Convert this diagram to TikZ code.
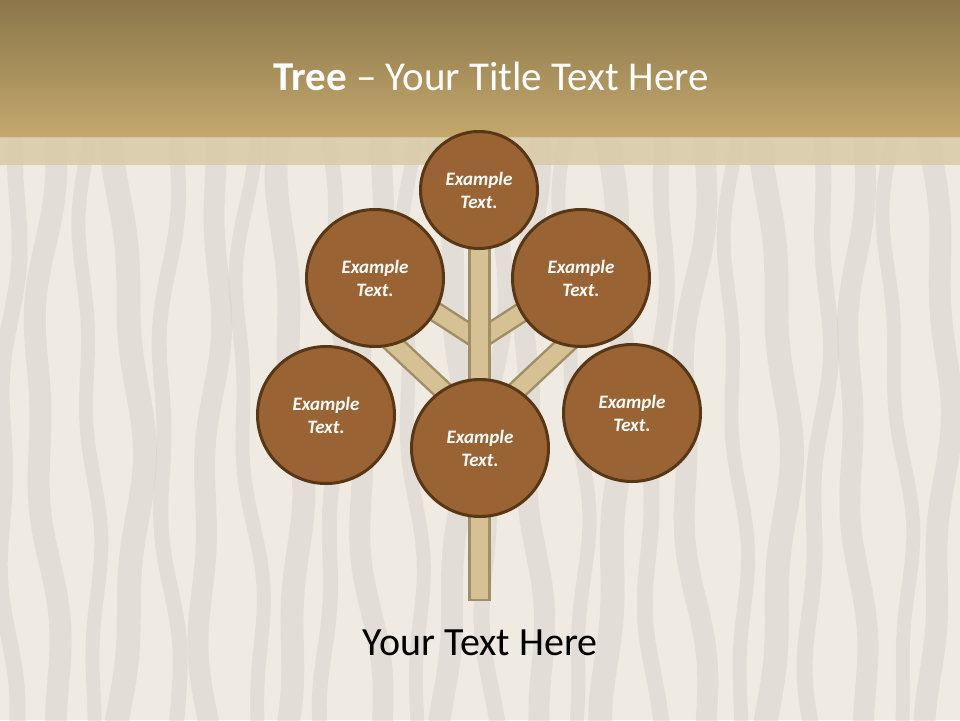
\documentclass[tikz,border=0pt]{standalone}
\usepackage{fontspec}
\setmainfont{Carlito}
\usetikzlibrary{calc}
\definecolor{headTop}{HTML}{8A774B}
\definecolor{headBot}{HTML}{C4A76C}
\definecolor{bandC}{HTML}{D9CBA8}
\definecolor{sandC}{HTML}{F0EBE2}
\definecolor{stripeC}{HTML}{D6D0CB}
\definecolor{cFill}{HTML}{9A6333}
\definecolor{cBorder}{HTML}{573715}
\definecolor{barIn}{HTML}{D6C195}
\definecolor{barOut}{HTML}{A08E67}
\begin{document}
\begin{tikzpicture}[x=1pt,y=-1pt,
  circ/.style={circle, draw=cBorder, line width=3pt, fill=cFill, minimum size=#1, inner sep=0pt,
    text=white, font=\fontsize{19}{23}\selectfont\bfseries\itshape, align=center},
  stripe/.style={draw=stripeC, opacity=0.5, line cap=round},
  barouter/.style={draw=barOut, line width=21pt},
  barinner/.style={draw=barIn, line width=16pt}]
\useasboundingbox (0,0) rectangle (960,720);
% sand background
\fill[sandC] (0,0) rectangle (960,720);
\begin{scope}
\clip (0,137) rectangle (960,720);
\foreach \xo/\ph/\w/\a in {10/0/16/9, 48/60/22/12, 90/130/14/8, 128/200/24/13, 170/40/15/10, 210/300/21/9,
  250/90/14/12, 290/170/23/10, 332/250/15/9, 372/20/21/13, 412/110/14/9, 452/210/22/12, 494/320/16/10,
  534/70/21/9, 574/150/14/12, 614/240/24/10, 656/330/16/9, 696/30/21/13, 736/120/14/9, 776/200/24/12,
  818/280/16/10, 858/50/21/9, 898/140/14/12, 938/230/22/10}
  \draw[stripe, line width=\w pt] plot[variable=\t, domain=137:720, samples=30, smooth]
    ({\xo + \a*sin(\t*0.55+\ph) + 4*sin(\t*1.7+2*\ph)}, \t);
\end{scope}
% header
\shade[top color=headTop, bottom color=headBot] (0,0) rectangle (960,137);
\fill[bandC, opacity=0.85] (0,137) rectangle (960,165);
\node[text=white, font=\fontsize{41}{48}\selectfont] (title) at (491,76) {\textbf{Tree} – Your Title Text Here};
% branch coordinates
\coordinate (tj) at (479,340);
\coordinate (ulb) at (380,276);
\coordinate (urb) at (578,276);
\coordinate (llb) at (370,322);
\coordinate (lrb) at (590,322);
\coordinate (bj) at (480,425);
\coordinate (ttop) at (479.5,240);
\coordinate (tbot) at (479.5,600);
% lower branches
\draw[barouter] (llb) -- (bj);
\draw[barinner] (llb) -- (bj);
\draw[barouter] (lrb) -- (bj);
\draw[barinner] (lrb) -- (bj);
% upper branches
\draw[barouter] (ulb) -- (tj);
\draw[barinner] (ulb) -- (tj);
\draw[barouter] (urb) -- (tj);
\draw[barinner] (urb) -- (tj);
% trunk
\draw[draw=barOut, fill=barIn, line width=2.5pt] ($(ttop)+(-10,0)$) rectangle ($(tbot)+(10,0)$);
% circles
\node[circ=117pt] (top) at (479,190) {Example\\Text.};
\node[circ=137pt] (ul) at (375,278) {Example\\Text.};
\node[circ=137pt] (ur) at (581,278) {Example\\Text.};
\node[circ=137pt] (ll) at (326,415) {Example\\Text.};
\node[circ=137pt] (lr) at (632,413) {Example\\Text.};
\node[circ=137pt] (bot) at (480,448) {Example\\Text.};
% bottom text
\node[text=black, font=\fontsize{40}{46}\selectfont] (yt) at (480,643) {Your Text Here};
\end{tikzpicture}
\end{document}
